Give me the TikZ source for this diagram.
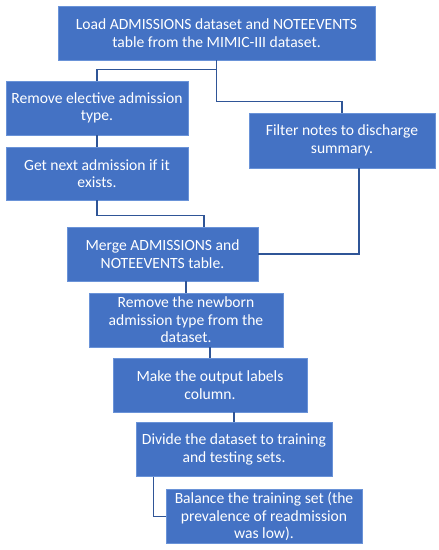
\documentclass[tikz,border=0pt]{standalone}
\usepackage{fontspec}
\setmainfont{Carlito}
\usetikzlibrary{positioning}
\definecolor{boxblue}{HTML}{4472C4}
\definecolor{edgeblue}{HTML}{6A93D8}
\definecolor{linkblue}{HTML}{2F5597}

\begin{document}
\begin{tikzpicture}[x=1pt, y=-1pt,
      stepbox/.style={draw=edgeblue, line width=0.6pt, fill=boxblue, text=white,
                      align=center, inner sep=0pt, minimum height=54pt,
                      font=\fontsize{15.6}{17.5}\selectfont},
      link/.style={draw=linkblue, line width=1.3pt}]
    \useasboundingbox (0,0) rectangle (439,550);
    \node[stepbox, minimum width=317pt] (load) at (216.5,33)
      {Load ADMISSIONS dataset and NOTEEVENTS\\table from the MIMIC-III dataset.};
    \node[stepbox, minimum width=182pt] (elect) at (97,108)
      {Remove elective admission\\type.};
    \node[stepbox, minimum width=182pt, minimum height=53pt] (next) at (97,173.5)
      {Get next admission if it\\exists.};
    \node[stepbox, minimum width=186pt, minimum height=55pt] (filter) at (342,140.5)
      {Filter notes to discharge\\summary.};
    \node[stepbox, minimum width=191pt] (merge) at (162.5,254)
      {Merge ADMISSIONS and\\NOTEEVENTS table.};
    \node[stepbox, minimum width=194pt] (newborn) at (186,320)
      {Remove the newborn\\admission type from the\\dataset.};
    \node[stepbox, minimum width=194pt] (labels) at (210,385)
      {Make the output labels\\column.};
    \node[stepbox, minimum width=196pt] (divide) at (234,449.5)
      {Divide the dataset to training\\and testing sets.};
    \node[stepbox, minimum width=196pt] (balance) at (264,516.5)
      {Balance the training set (the\\prevalence of readmission\\was low).};
    \draw[link] (load.south) -- ++(0,9) -| (elect.north);
    \draw[link] (load.south) -- ++(0,41) -| (filter.north);
    \draw[link] (elect.south) -- (next.north);
    \draw[link] (next.south) -- ++(0,15) -| ([xshift=41.5pt]merge.north);
    \draw[link] ([xshift=17pt]filter.south) |- (merge.east);
    \draw[link] (merge.south -| newborn.north) -- (newborn.north);
    \draw[link] (newborn.south -| labels.north) -- (labels.north);
    \draw[link] (labels.south -| divide.north) -- (divide.north);
    \draw[link] ([xshift=18pt]divide.south west) |- (balance.west);
  \end{tikzpicture}
\end{document}
